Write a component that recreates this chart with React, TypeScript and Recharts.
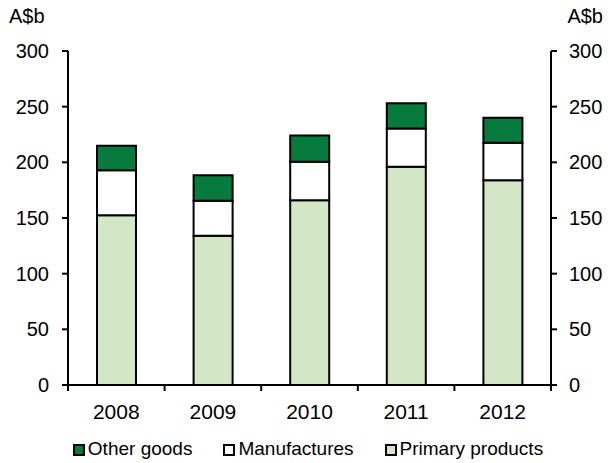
import { Bar, BarChart, XAxis, YAxis } from 'recharts'

const years = ['2008', '2009', '2010', '2011', '2012']
const primaryProducts = [152.5, 134, 166, 196, 184]
const manufactures = [40.5, 31.5, 34.5, 34.5, 33.5]
const otherGoods = [22, 23, 23.5, 22.5, 22.5]
const yTicks = [0, 50, 100, 150, 200, 250, 300]

const data = years.map((year, i) => ({
  year,
  primary: primaryProducts[i],
  manufactures: manufactures[i],
  other: otherGoods[i],
}))

const DARK = '#077a3d'
const LIGHT = '#d3e6c6'
const FONT = '"Liberation Sans", Arial, sans-serif'
const TICK_SIZE = 6
const X_TICK_MARGIN = 13

// year label at the band centre, tick marks at the band edges
function YearTick(props: any) {
  const { x, y, payload, index } = props
  const half = payload?.offset ?? 0
  const top = y - X_TICK_MARGIN - TICK_SIZE
  return (
    <g>
      <line x1={x - half} x2={x - half} y1={top} y2={top + TICK_SIZE} stroke="#000" strokeWidth={2} />
      {index === years.length - 1 && (
        <line x1={x + half} x2={x + half} y1={top} y2={top + TICK_SIZE} stroke="#000" strokeWidth={2} />
      )}
      <text x={x} y={y} dy="0.71em" textAnchor="middle" fill="#000" fontSize={21}>
        {payload.value}
      </text>
    </g>
  )
}

const legendItems = [
  { label: 'Other goods', color: DARK },
  { label: 'Manufactures', color: '#fff' },
  { label: 'Primary products', color: LIGHT },
]

export default function App() {
  const axisStroke = { stroke: '#000', strokeWidth: 2 }
  return (
    <div
      style={{
        position: 'absolute',
        left: 0,
        top: 0,
        width: 608,
        height: 463,
        background: '#fff',
        fontFamily: FONT,
        color: '#000',
      }}
    >
      <div style={{ position: 'absolute', left: 9, top: 6, fontSize: 20, lineHeight: '20px' }}>A$b</div>
      <div style={{ position: 'absolute', right: 5, top: 6, fontSize: 20, lineHeight: '20px' }}>A$b</div>
      <BarChart
        width={608}
        height={463}
        data={data}
        margin={{ top: 51, right: 0, bottom: 48, left: 0 }}
        barSize={39}
      >
        <XAxis
          dataKey="year"
          interval={0}
          height={30}
          tickLine={false}
          tickSize={TICK_SIZE}
          tickMargin={X_TICK_MARGIN}
          axisLine={axisStroke}
          tick={<YearTick />}
        />
        <YAxis
          yAxisId="left"
          type="number"
          domain={[0, 300]}
          ticks={yTicks}
          interval={0}
          width={68}
          tickSize={TICK_SIZE}
          tickMargin={13}
          axisLine={axisStroke}
          tickLine={axisStroke}
          tick={{ fill: '#000', fontSize: 20 }}
        />
        <YAxis
          yAxisId="right"
          type="number"
          orientation="right"
          domain={[0, 300]}
          allowDataOverflow
          ticks={yTicks}
          interval={0}
          width={57}
          tickSize={TICK_SIZE}
          tickMargin={12}
          axisLine={axisStroke}
          tickLine={axisStroke}
          tick={{ fill: '#000', fontSize: 20 }}
        />
        <Bar yAxisId="left" dataKey="primary" stackId="a" fill={LIGHT} stroke="#000" strokeWidth={2} isAnimationActive={false} />
        <Bar yAxisId="left" dataKey="manufactures" stackId="a" fill="#fff" stroke="#000" strokeWidth={2} isAnimationActive={false} />
        <Bar yAxisId="left" dataKey="other" stackId="a" fill={DARK} stroke="#000" strokeWidth={2} isAnimationActive={false} />
      </BarChart>
      <div
        style={{
          position: 'absolute',
          left: 0,
          top: 439,
          width: 616,
          display: 'flex',
          justifyContent: 'center',
          gap: 31,
          fontSize: 19,
          lineHeight: '19px',
        }}
      >
        {legendItems.map((item) => (
          <div key={item.label} style={{ display: 'flex', alignItems: 'center' }}>
            <span
              style={{
                display: 'inline-block',
                width: 8,
                height: 8,
                border: '2px solid #000',
                background: item.color,
                marginRight: 3,
                marginTop: 2,
              }}
            />
            <span>{item.label}</span>
          </div>
        ))}
      </div>
    </div>
  )
}
